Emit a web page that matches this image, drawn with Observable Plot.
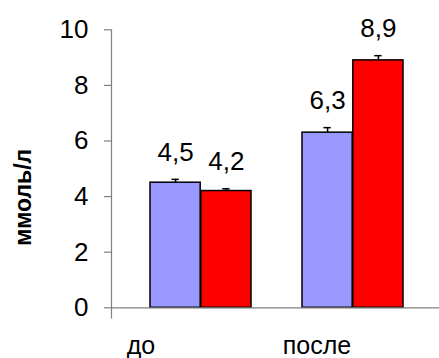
<!DOCTYPE html>
<html><head><meta charset="utf-8">
<script src="https://cdn.jsdelivr.net/npm/d3@7"></script>
<script src="https://cdn.jsdelivr.net/npm/@observablehq/plot@0.6"></script>
<style>html,body{margin:0;padding:0;background:#fff}</style>
</head><body><div id="chart"></div>
<script>
// Data
const groups = ["до", "после"];
const valuesBlue = [4.5, 6.3];
const valuesRed = [4.2, 8.9];
const errBlue = [0.12, 0.18];
const errRed = [0.08, 0.17];
const yTicks = [0, 2, 4, 6, 8, 10];
const yLabel = "ммоль/л";
const blueColor = "#9999FF";
const redColor = "#FF0000";
const axisColor = "#808080";

const fmt = v => v.toFixed(1).replace(".", ",");
const rowsBlue = groups.map((g, i) => ({group: g, value: valuesBlue[i], err: errBlue[i]}));
const rowsRed = groups.map((g, i) => ({group: g, value: valuesRed[i], err: errRed[i]}));

const xRange = [150, 404];
const padInner = 0.333;
const bw = d3.scaleBand().domain(groups).range(xRange).paddingInner(padInner).paddingOuter(0).bandwidth();
const half = bw / 2, quarter = bw / 4, capHalf = 4;

const font = 26;

function seriesMarks(rows, color, side) {
  // side: -1 left half (blue), +1 right half (red)
  const off = side * quarter;
  return [
    Plot.barY(rows, {x: "group", y: "value", fill: color, stroke: "black", strokeWidth: 1.5,
      insetLeft: side < 0 ? 0 : half, insetRight: side < 0 ? half : 0}),
    Plot.ruleX(rows, {x: "group", y1: "value", y2: d => d.value + d.err, dx: off, stroke: "black", strokeWidth: 1.5}),
    Plot.tickY(rows, {x: "group", y: d => d.value + d.err, stroke: "black", strokeWidth: 1.5,
      insetLeft: half + off - capHalf, insetRight: half - off - capHalf}),
    Plot.text(rows, {x: "group", y: d => d.value + d.err, text: d => fmt(d.value), dx: off, dy: -27,
      fontSize: font, fill: "black", lineAnchor: "middle"})
  ];
}

const chart = Plot.plot({
  width: 439,
  height: 358,
  marginLeft: 111,
  marginRight: 0,
  marginTop: 29.3,
  marginBottom: 50.7,
  style: {fontFamily: "'Liberation Sans', Arial, sans-serif", background: "#fff", color: "black"},
  x: {domain: groups, type: "band", range: xRange, paddingInner: padInner, paddingOuter: 0},
  y: {domain: [0, 10]},
  marks: [
    Plot.frame({anchor: "left", stroke: axisColor, strokeWidth: 1.2, insetBottom: -10}),
    ...seriesMarks(rowsBlue, blueColor, -1),
    ...seriesMarks(rowsRed, redColor, 1),
    Plot.ruleY([0], {stroke: axisColor, strokeWidth: 1.2}),
    Plot.axisY({ticks: yTicks, tickSize: 7, tickPadding: 16, fontSize: font, stroke: axisColor, strokeWidth: 1.2, label: null, tickFormat: d => String(d)}),
    Plot.axisX({ticks: [groups[0]], tickSize: 0, tickPadding: 28, dx: -60, fontSize: 25, label: null}),
    Plot.axisX({ticks: [groups[1]], tickSize: 0, tickPadding: 28, dx: -36, fontSize: 25, label: null}),
    Plot.text([yLabel], {frameAnchor: "left", text: d => d, rotate: -90, dx: -87.5, dy: 77, fontSize: 23, fontWeight: "bold", fill: "black"})
  ]
});
document.getElementById("chart").appendChild(chart);
</script>
</body></html>
